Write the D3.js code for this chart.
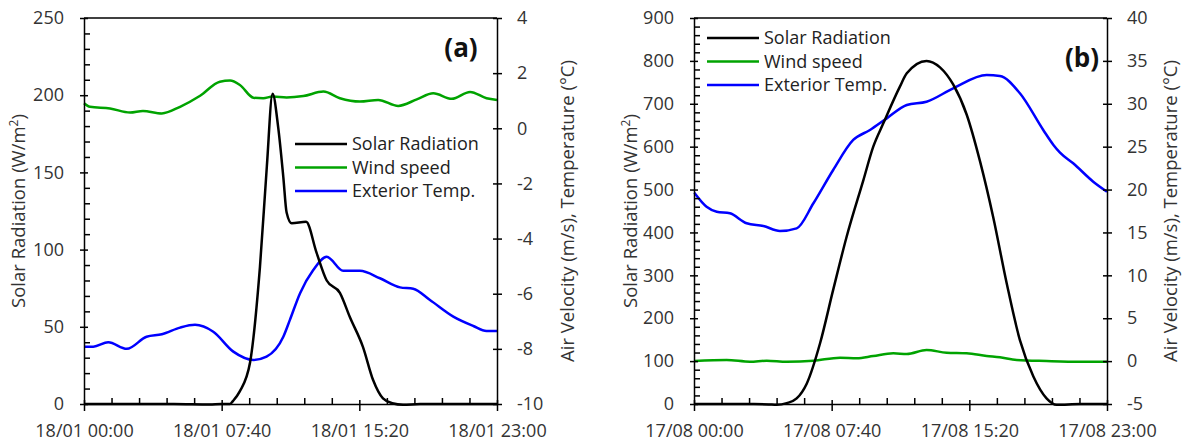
<!DOCTYPE html>
<html>
<head>
<meta charset="utf-8">
<script src="https://cdn.jsdelivr.net/npm/d3@7"></script>
<style>
  body { margin: 0; background: #fff; }
  text { font-family: "Open Sans", sans-serif; }
  .axis path, .axis line { stroke: #000; stroke-width: 1.5; }
  .axis text { fill: #333; font-size: 18px; }
</style>
</head>
<body>
<svg id="chart" width="1182" height="444"></svg>
<script>
// time in minutes from 00:00
var timeTicks = [0, 460, 920, 1380];
var timeMinor = [92, 184, 276, 368, 552, 644, 736, 828, 1012, 1104, 1196, 1288];
var seriesNames = ["Solar Radiation", "Wind speed", "Exterior Temp."];

// panel (a) - 18/01
var solarA_t = [0, 300, 420, 458, 488, 498, 520, 555, 588, 611, 630, 649, 666, 677, 694, 742, 777, 811, 855, 889, 932, 966, 999, 1030, 1066, 1123, 1380];
var solarA_v = [0, 0, -0.3, 0, 0, 2, 8, 27, 89, 154, 201, 179, 147, 124, 117, 118, 98, 80, 72, 56, 37, 15.5, 3.6, 0.5, -0.5, 0, 0];
var windA_t = [0, 20, 87, 154, 197, 260, 321, 388, 454, 488, 521, 566, 599, 630, 677, 733, 800, 855, 922, 983, 1050, 1112, 1167, 1229, 1290, 1345, 1380];
var windA_v = [0.91, 0.78, 0.72, 0.57, 0.63, 0.54, 0.78, 1.18, 1.69, 1.73, 1.57, 1.11, 1.09, 1.15, 1.12, 1.17, 1.33, 1.09, 0.97, 1.03, 0.81, 1.05, 1.27, 1.07, 1.32, 1.09, 1.03];
var tempA_t = [0, 31, 81, 143, 209, 260, 321, 371, 432, 499, 566, 610, 666, 688, 722, 766, 811, 866, 922, 989, 1056, 1100, 1156, 1234, 1301, 1345, 1380];
var tempA_v = [-7.92, -7.92, -7.76, -8.0, -7.56, -7.47, -7.23, -7.13, -7.38, -8.10, -8.40, -8.28, -7.56, -6.95, -5.98, -5.14, -4.66, -5.17, -5.17, -5.44, -5.77, -5.82, -6.23, -6.83, -7.17, -7.35, -7.35];

// panel (b) - 17/08
var solarB_t = [0, 200, 250, 276, 310, 343, 377, 421, 465, 510, 566, 599, 633, 688, 711, 777, 822, 866, 911, 956, 1000, 1045, 1089, 1134, 1178, 1212, 1290, 1380];
var solarB_v = [0, 0, -1, -2, 2, 13, 48, 141, 266, 390, 522, 600, 655, 740, 771, 800, 785, 745, 675, 565, 435, 281, 149, 64, 13, -2, 0, 0];
var windB_t = [1, 109, 187, 243, 310, 399, 488, 544, 599, 666, 711, 777, 844, 911, 978, 1022, 1078, 1178, 1290, 1380];
var windB_v = [0.01, 0.13, -0.07, 0.05, -0.07, 0.05, 0.40, 0.33, 0.60, 0.91, 0.83, 1.30, 0.98, 0.91, 0.60, 0.44, 0.13, 0.01, -0.07, -0.07];
var tempB_t = [1, 42, 76, 120, 176, 232, 287, 343, 399, 465, 532, 588, 644, 711, 777, 866, 978, 1022, 1089, 1167, 1201, 1223, 1267, 1334, 1380];
var tempB_v = [19.63, 18.0, 17.42, 17.23, 16.07, 15.75, 15.17, 15.48, 18.40, 22.28, 25.78, 26.94, 28.30, 29.86, 30.24, 31.8, 33.35, 33.24, 31.22, 26.94, 25.2, 24.3, 23.06, 20.92, 19.75];

var svg = d3.select("#chart");
var plotTop = 18, plotBottom = 404;
var colors = ["#000000", "#00a300", "#0000ff"];

function zip(t, v) {
  return t.map(function(d, i) { return [d, v[i]]; });
}

function fmtTime(day) {
  return function(m) {
    var h = Math.floor(m / 60), mm = m % 60;
    return day + " " + String(h).padStart(2, "0") + ":" + String(mm).padStart(2, "0");
  };
}

// plain hyphen minus like the original
function fmtNum(d) { return String(d); }

function drawPanel(p) {
  var g = svg.append("g");
  var x = d3.scaleLinear().domain([0, 1380]).range([p.x0, p.x1]);
  var yL = d3.scaleLinear().domain(p.leftDomain).range([plotBottom, plotTop]);
  var yR = d3.scaleLinear().domain(p.rightDomain).range([plotBottom, plotTop]);

  // top border
  g.append("line")
    .attr("x1", p.x0).attr("x2", p.x1)
    .attr("y1", plotTop).attr("y2", plotTop)
    .attr("stroke", "#000").attr("stroke-width", 1.5);

  // lines
  var lineL = d3.line().x(d => x(d[0])).y(d => yL(d[1])).curve(d3.curveMonotoneX);
  var lineR = d3.line().x(d => x(d[0])).y(d => yR(d[1])).curve(d3.curveMonotoneX);

  g.append("path").datum(zip(p.wind[0], p.wind[1]))
    .attr("fill", "none").attr("stroke", colors[1]).attr("stroke-width", 2.5).attr("d", lineR);
  g.append("path").datum(zip(p.temp[0], p.temp[1]))
    .attr("fill", "none").attr("stroke", colors[2]).attr("stroke-width", 2.5).attr("d", lineR);
  g.append("path").datum(zip(p.solar[0], p.solar[1]))
    .attr("fill", "none").attr("stroke", colors[0]).attr("stroke-width", 2.5).attr("d", lineL);

  // minor ticks, inward
  g.append("g").attr("class", "axis")
    .attr("transform", `translate(${p.x0},0)`)
    .call(d3.axisRight(yL).tickValues(p.leftMinor).tickSize(6).tickSizeOuter(0).tickFormat(""))
    .call(a => a.select(".domain").remove());
  g.append("g").attr("class", "axis")
    .attr("transform", `translate(0,${plotBottom})`)
    .call(d3.axisTop(x).tickValues(timeMinor).tickSize(6).tickSizeOuter(0).tickFormat(""))
    .call(a => a.select(".domain").remove());

  // left axis
  var la = g.append("g").attr("class", "axis")
    .attr("transform", `translate(${p.x0},0)`)
    .call(d3.axisLeft(yL).tickValues(p.leftTicks).tickSize(4).tickSizeOuter(0).tickPadding(16).tickFormat(fmtNum));
  la.selectAll(".tick line").attr("x1", 4);

  // right axis
  var ra = g.append("g").attr("class", "axis")
    .attr("transform", `translate(${p.x1},0)`)
    .call(d3.axisRight(yR).tickValues(p.rightTicks).tickSize(5).tickSizeOuter(0).tickPadding(15).tickFormat(fmtNum));
  ra.selectAll(".tick line").attr("x1", -4);

  // bottom axis
  var ba = g.append("g").attr("class", "axis")
    .attr("transform", `translate(0,${plotBottom})`)
    .call(d3.axisBottom(x).tickValues(timeTicks).tickSize(7).tickSizeOuter(0).tickPadding(13).tickFormat(fmtTime(p.day)));
  ba.selectAll(".tick line").attr("y1", -4);

  // axis titles
  var lt = g.append("text")
    .attr("transform", `translate(${p.leftTitleX},211) rotate(-90)`)
    .attr("text-anchor", "middle")
    .attr("fill", "#333").attr("font-size", "18.5px");
  lt.append("tspan").text("Solar Radiation (W/m");
  lt.append("tspan").attr("font-size", "12px").attr("dy", "-7").text("2");
  lt.append("tspan").attr("dy", "7").text(")");

  g.append("text")
    .attr("transform", `translate(${p.rightTitleX},211) rotate(-90)`)
    .attr("text-anchor", "middle")
    .attr("fill", "#333").attr("font-size", "18.5px")
    .text("Air Velocity (m/s), Temperature (\u00B0C)");

  // panel tag
  g.append("text")
    .attr("x", p.tagX).attr("y", p.tagY)
    .attr("text-anchor", "middle")
    .attr("font-family", "DejaVu Serif, serif")
    .attr("font-weight", "bold")
    .attr("font-size", "26px")
    .attr("fill", "#111")
    .text(p.tag);

  // legend
  var lg = g.append("g").attr("transform", `translate(${p.legendX},${p.legendY})`);
  seriesNames.forEach(function(name, i) {
    var row = lg.append("g").attr("transform", `translate(0,${i * 23.5})`);
    row.append("line").attr("x1", 0).attr("x2", 52).attr("y1", 0).attr("y2", 0)
      .attr("stroke", colors[i]).attr("stroke-width", 2.5);
    row.append("text").attr("x", 57).attr("y", 0).attr("dy", "0.36em")
      .attr("font-size", "18px").attr("fill", "#222").text(name);
  });
}

drawPanel({
  x0: 84, x1: 497, day: "18/01",
  leftDomain: [0, 250], rightDomain: [-10, 4],
  leftTicks: d3.range(0, 251, 50),
  leftMinor: d3.range(10, 250, 10).filter(v => v % 50 !== 0),
  rightTicks: d3.range(-10, 5, 2),
  solar: [solarA_t, solarA_v], wind: [windA_t, windA_v], temp: [tempA_t, tempA_v],
  leftTitleX: 25, rightTitleX: 574,
  tag: "(a)", tagX: 461, tagY: 57,
  legendX: 295, legendY: 144
});

drawPanel({
  x0: 694, x1: 1107, day: "17/08",
  leftDomain: [0, 900], rightDomain: [-5, 40],
  leftTicks: d3.range(0, 901, 100),
  leftMinor: d3.range(20, 900, 20).filter(v => v % 100 !== 0),
  rightTicks: d3.range(-5, 41, 5),
  solar: [solarB_t, solarB_v], wind: [windB_t, windB_v], temp: [tempB_t, tempB_v],
  leftTitleX: 637, rightTitleX: 1177,
  tag: "(b)", tagX: 1082, tagY: 67,
  legendX: 707, legendY: 38
});
</script>
</body>
</html>
